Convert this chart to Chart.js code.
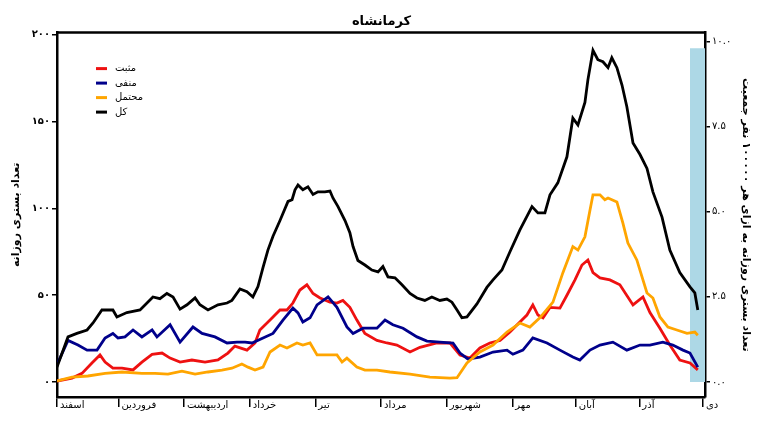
<!DOCTYPE html>
<html lang="fa">
<head>
    <meta charset="UTF-8" />
    <title>کرمانشاه</title>
    <script src="https://cdn.jsdelivr.net/npm/chart.js"></script>
    <style>
        body { margin: 0; background: #fff; }
        #wrap { width: 763px; height: 430px; }
    </style>
</head>
<body>
<div id="wrap"><canvas id="chart" width="763" height="430"></canvas></div>
<script>
// x axis: days counted from 1 Esfand
const monthDays = [0, 29, 60, 91, 122, 153, 184, 215, 245, 275, 305];
const monthNames = ['اسفند', 'فروردین', 'اردیبهشت', 'خرداد', 'تیر', 'مرداد', 'شهریور', 'مهر', 'آبان', 'آذر', 'دی'];

const leftTicks = [0, 50, 100, 150, 200];
const rightTicks = [0, 2.5, 5, 7.5, 10];
const rightTickLabels = ['۰.۰', '۲.۵', '۵.۰', '۷.۵', '۱۰.۰'];

const seriesNames = ['مثبت', 'منفی', 'محتمل', 'کل'];
const seriesColors = ['#ee1111', '#00008b', '#ffa500', '#000000'];

// مثبت
const positiveDays = [0,7.1,11.8,16.5,20.3,22.7,26.4,30.7,35.9,40.1,44.9,49.6,53.4,58.1,63.7,69.9,76,80.7,84,89.7,93.5,95.8,100.6,105.3,108.6,111.4,114.7,118,120.9,124.2,128.9,132.2,135,138.3,141.6,145.4,151.1,155.8,160.5,166.7,171.4,179.4,185.6,190.3,195,199.7,204.4,209.2,213.9,218.6,221.9,224.7,227.1,229.5,232.8,237.5,240.8,244.6,247.9,250.7,253.1,256.4,261.1,265.8,272,276.7,280,284.7,289.4,294.1,298.9,302.6];
const positiveValues = [0.6,2.3,5,11,15.6,11.5,8,8,7,11.5,16,16.7,13.8,11.5,12.7,11.5,12.7,16.7,20.7,18.4,22.5,30,35.7,41.5,41.5,45.5,53,56,51,48.4,46,45.5,47,43,35.7,28,24,22.5,21.3,17.3,20,22.5,22.5,15.6,13.8,19.6,22.5,24,28.8,34.6,38.6,44.4,38.6,37,43,42.6,50,58.8,67.4,70.3,63,60,58.8,56,44.4,49,40,31,21.3,12.7,11,7];

// منفی
const negativeDays = [0,5.2,9.9,14.2,18.9,22.7,26.4,28.8,32.1,35.9,40.1,44.9,47.2,53.4,58.1,64.2,68.5,74.6,80.3,85,88.8,92.1,97.3,102,106.7,111.4,113.8,116.1,119.5,122.8,128,132.2,136.9,139.8,144.5,151.1,154.9,158.6,163.4,170,174.7,180.8,187,190.3,194,199.7,205.9,212.5,215.3,220,224.7,231.4,237.5,243.6,246.9,251.7,256.4,262.5,269.1,275.3,280,286.1,290.8,295.6,298.9,302.6];
const negativeValues = [10,24,21.3,18.4,18.4,25.4,28,25.4,26,30,26,30,26,33,23,31.7,28,26,22.5,23,23,22.5,25.4,28,35.7,42.6,39.8,34.6,37,44.4,49,43,31.7,28,31,31,35.7,33,31,26,23.6,23,22.5,16.7,13.3,14.4,17.3,18.4,16,18.4,25.4,22.5,18.4,14.4,12.7,18.4,21.3,23,18.4,21.3,21.3,23,21.3,18.4,16.7,8.6];

// محتمل
const probableDays = [0,7.1,14.6,22.7,30.7,40.1,46.3,52.4,59,65.2,71.3,77.9,82.6,87.3,90.2,93.5,97.3,100.6,105.3,108.6,113.3,116.1,119.5,122.8,127.5,132.2,134.6,136.9,141.6,145.4,151.1,157.2,166.7,176.1,185.6,188.9,193.6,199.7,205.9,212.5,218.6,223.3,228,234.2,238.9,243.6,246,249.3,251.7,253.1,256.4,258.7,260.2,264.4,267.2,269.6,273.8,278.6,281.4,284.7,288.5,292.7,297.5,301.2,302.6];
const probableValues = [0.6,2.9,3.5,5,5.8,5,5,4.6,6.3,4.6,5.8,6.9,8,10.4,8.6,6.9,8.6,17.3,21.3,19.6,22.5,21.3,22.5,15.6,15.6,15.6,11.5,13.8,8.6,6.9,6.9,5.8,4.6,2.9,2.3,2.5,11,17.3,21.3,28.8,34,31.7,37,46,63,78,76,83.6,99,107.8,107.8,105,106,103.7,91.6,80,70.3,51.3,48.4,37.5,31.7,30,28,28.8,27];

// کل
const totalDays = [0,5.2,9.4,14.2,17,21.2,26.4,28.3,33,39.2,45.3,48.6,51.9,54.8,58.1,61.4,65.2,67.5,71.3,76,80.3,82.6,86.4,89.7,92.5,94.9,97.3,99.6,102,105.3,109.1,111,112.4,113.8,116.1,118.5,120.9,123.2,126.5,128.9,130.3,132.7,136,138.3,139.8,142.1,145.4,148.7,151.6,153.9,156.3,159.6,162.9,166.7,170,173.7,177,180.8,184.1,186.5,188.9,191.2,193.6,198.3,203,205.9,210.1,213.9,218.6,224.3,227.1,230.4,232.8,236.5,240.8,243.6,246,249.3,250.7,253.1,255.4,257.8,260.2,262,264.4,266.8,269.1,272,275.3,278.6,281.4,285.7,289.4,294.1,298.9,301.2,302.6];
const totalValues = [8.6,26,28,30,34,41.5,41.5,37.5,40,41.5,49,48,51,49,42,44.5,48.5,44.5,41.5,44.5,45.5,47,53.6,52,49,55,66,76,84,93,104,105,110.7,113.5,110.7,112.4,108,109.5,109.5,110,106,101,93,86,78,70,67.4,64.5,63.4,66.5,60.5,60,56,51,48.4,47,49,47,47.8,46,41.5,37,37.5,45,54.5,58.8,64.5,75,87.6,101,97.4,97.4,107.8,114.7,129.7,152,148,161,174,191,185.6,184.4,181,186.7,181,171,158.5,137.7,131,123,109.5,95,76,63,54.8,51.3,41.5];

// shaded last week, on the per-100000 axis
const shadeDays = [298.9, 306];
const shadeValues = [9.8, 9.8];

const FONT = "'DejaVu Sans', sans-serif";

function faDigits(s) {
    return String(s).replace(/[0-9]/g, d => '۰۱۲۳۴۵۶۷۸۹'[d]);
}
function toPoints(xs, ys) {
    return xs.map((x, i) => ({ x: x, y: ys[i] }));
}

const seriesData = [
    toPoints(positiveDays, positiveValues),
    toPoints(negativeDays, negativeValues),
    toPoints(probableDays, probableValues),
    toPoints(totalDays, totalValues)
];
const drawOrder = [4, 3, 2, 1];

const datasets = seriesNames.map((name, i) => ({
    label: name,
    data: seriesData[i],
    borderColor: seriesColors[i],
    borderWidth: 2.8,
    pointRadius: 0,
    tension: 0,
    fill: false,
    yAxisID: 'y',
    order: drawOrder[i]
}));
datasets.push({
    label: 'shade',
    data: toPoints(shadeDays, shadeValues),
    backgroundColor: '#add8e6',
    borderWidth: 0,
    pointRadius: 0,
    fill: 'origin',
    yAxisID: 'y2',
    order: 10
});

// top border of the frame
const framePlugin = {
    id: 'frame',
    afterDraw(chart) {
        const { ctx, chartArea: a } = chart;
        ctx.save();
        ctx.strokeStyle = '#000';
        ctx.lineWidth = 2.5;
        ctx.beginPath();
        ctx.moveTo(a.left - 1, a.top);
        ctx.lineTo(a.right + 1, a.top);
        ctx.stroke();
        ctx.restore();
    }
};

// legend inside the plot, top-left
const legendPlugin = {
    id: 'insideLegend',
    afterDraw(chart) {
        const { ctx, chartArea: a } = chart;
        ctx.save();
        ctx.font = '10px ' + FONT;
        ctx.textBaseline = 'middle';
        ctx.textAlign = 'left';
        seriesNames.forEach((name, i) => {
            const y = a.top + 36 + i * 14.5;
            ctx.strokeStyle = seriesColors[i];
            ctx.lineWidth = 3;
            ctx.beginPath();
            ctx.moveTo(a.left + 39, y);
            ctx.lineTo(a.left + 50, y);
            ctx.stroke();
            ctx.fillStyle = '#000';
            ctx.fillText(name, a.left + 58, y);
        });
        ctx.restore();
    }
};

new Chart(document.getElementById('chart'), {
    type: 'line',
    data: { datasets: datasets },
    options: {
        responsive: false,
        animation: false,
        layout: { padding: 0 },
        plugins: {
            legend: { display: false },
            tooltip: { enabled: false },
            title: {
                display: true,
                text: 'کرمانشاه',
                color: '#000',
                font: { family: FONT, size: 13, weight: 'bold' },
                padding: { top: 14, bottom: 3 }
            }
        },
        scales: {
            x: {
                type: 'linear',
                min: 0,
                max: 306,
                afterBuildTicks: s => { s.ticks = monthDays.map(v => ({ value: v })); },
                afterFit: s => { s.height = 33; },
                border: { color: '#000', width: 2.5 },
                grid: { drawOnChartArea: false, color: '#000', lineWidth: 1.5, tickLength: 10 },
                ticks: {
                    autoSkip: false,
                    maxRotation: 0,
                    align: 'start',
                    labelOffset: 3,
                    padding: -8,
                    color: '#000',
                    font: { family: FONT, size: 10 },
                    callback: v => monthNames[monthDays.indexOf(v)]
                }
            },
            y: {
                position: 'left',
                min: -8.6,
                max: 201.2,
                afterBuildTicks: s => { s.ticks = leftTicks.map(v => ({ value: v })); },
                afterFit: s => { s.width = 57; },
                border: { color: '#000', width: 2.5 },
                grid: { drawOnChartArea: false, color: '#000', lineWidth: 1.5, tickLength: 5 },
                ticks: {
                    padding: 2,
                    color: '#000',
                    font: { family: FONT, size: 10, weight: 'bold' },
                    callback: v => faDigits(v)
                },
                title: {
                    display: true,
                    text: 'تعداد بستری روزانه',
                    color: '#000',
                    font: { family: FONT, size: 11, weight: 'bold' },
                    padding: { top: 10, bottom: 0 }
                }
            },
            y2: {
                position: 'right',
                min: -0.44,
                max: 10.26,
                afterBuildTicks: s => { s.ticks = rightTicks.map(v => ({ value: v })); },
                afterFit: s => { s.width = 58; },
                border: { color: '#000', width: 2.5 },
                grid: { drawOnChartArea: false, color: '#000', lineWidth: 1.5, tickLength: 5 },
                ticks: {
                    padding: 2,
                    color: '#000',
                    font: { family: FONT, size: 10 },
                    callback: v => rightTickLabels[rightTicks.indexOf(v)]
                },
                title: {
                    display: true,
                    text: 'تعداد بستری روزانه به ازای هر ۱۰۰۰۰۰ نفر جمعیت',
                    color: '#000',
                    font: { family: FONT, size: 11, weight: 'bold' },
                    padding: { top: 11, bottom: 0 }
                }
            }
        }
    },
    plugins: [framePlugin, legendPlugin]
});
</script>
</body>
</html>
